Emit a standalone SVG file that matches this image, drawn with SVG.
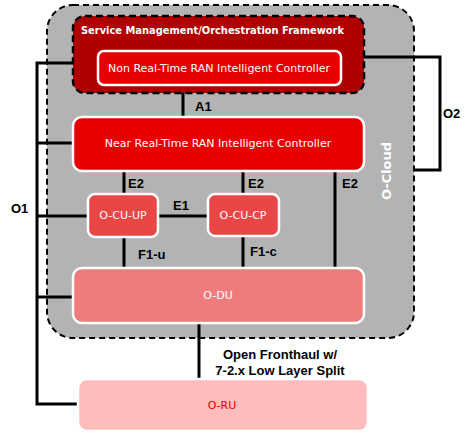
<svg xmlns="http://www.w3.org/2000/svg" width="470" height="439" viewBox="0 0 470 439">
<style>
.node{stroke:#fff;stroke-width:2.5}
.nt{font-family:"DejaVu Sans",Verdana,sans-serif;font-size:11px;fill:#fff;text-anchor:middle;dominant-baseline:central}
.lbl{font-family:"Liberation Sans",Arial,sans-serif;font-size:13px;font-weight:bold;fill:#000}
.conn{stroke:#000;stroke-width:3;fill:none}
</style>
<rect width="470" height="439" fill="#fff"/>
<g id="o-cloud">
<rect x="47" y="5" width="367" height="333" rx="26" fill="#b3b3b3" stroke="#000" stroke-width="2" stroke-dasharray="6,4"/>
<text transform="translate(386,171) rotate(-90)" class="nt" style="font-size:13px;font-weight:bold;fill:#fff">O-Cloud</text>
</g>
<g id="connectors">
<path class="conn" d="M183,93 V118"/>
<path class="conn" d="M124,171 V194 M243,171 V194 M335,171 V268"/>
<path class="conn" d="M158,216 H208"/>
<path class="conn" d="M124,237 V268 M243,237 V268"/>
<path class="conn" d="M199,323 V379"/>
<path class="conn" d="M73,63 H37 V404 H78 M37,143 H73 M37,216 H87 M37,297 H73"/>
<path class="conn" d="M364,57 H440 V170 H414"/>
<text class="lbl" x="195" y="111">A1</text>
<text class="lbl" x="128" y="188">E2</text>
<text class="lbl" x="248" y="188">E2</text>
<text class="lbl" x="342" y="188">E2</text>
<text class="lbl" x="173" y="210">E1</text>
<text class="lbl" x="138" y="259">F1-u</text>
<text class="lbl" x="250" y="256">F1-c</text>
<text class="lbl" x="11" y="213">O1</text>
<text class="lbl" x="443" y="118">O2</text>
<text class="lbl" x="280" y="359" text-anchor="middle">Open Fronthaul w/</text>
<text class="lbl" x="280" y="375" text-anchor="middle">7-2.x Low Layer Split</text>
</g>
<g id="smo">
<rect x="73" y="16" width="291" height="77" rx="12" fill="#b00000" stroke="#000" stroke-width="2.5" stroke-dasharray="7,4"/>
<text class="nt" x="81" y="30" textLength="263" lengthAdjust="spacingAndGlyphs" style="text-anchor:start;font-weight:bold;font-size:11px">Service Management/Orchestration Framework</text>
</g>
<g id="non-rt-ric">
<rect class="node" x="98" y="51" width="243" height="34" rx="6" fill="#e60000"/>
<text class="nt" x="219" y="68">Non Real-Time RAN Intelligent Controller</text>
</g>
<g id="near-rt-ric">
<rect class="node" x="73" y="117" width="291" height="54" rx="9" fill="#e80000"/>
<text class="nt" x="218" y="143">Near Real-Time RAN Intelligent Controller</text>
</g>
<g id="o-cu-up">
<rect class="node" x="88" y="194" width="70" height="43" rx="7" fill="#e94646"/>
<text class="nt" x="123" y="215">O-CU-UP</text>
</g>
<g id="o-cu-cp">
<rect class="node" x="208" y="194" width="71" height="42" rx="7" fill="#e94646"/>
<text class="nt" x="243" y="215">O-CU-CP</text>
</g>
<g id="o-du">
<rect class="node" x="73" y="268" width="291" height="55" rx="9" fill="#f07b7b"/>
<text class="nt" x="218" y="295">O-DU</text>
</g>
<g id="o-ru">
<rect class="node" x="78" y="379" width="290" height="52" rx="9" fill="#ffbcbc" stroke="#f8f0f0"/>
<text class="nt" x="222" y="405" style="fill:#e00000">O-RU</text>
</g>
</svg>
